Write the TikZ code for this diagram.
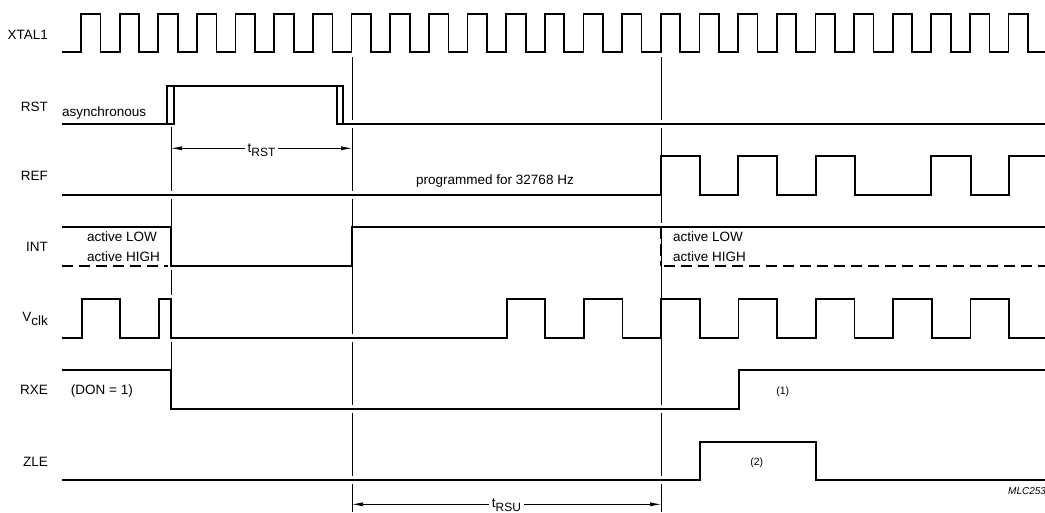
\documentclass[tikz,border=0pt]{standalone}
\usepackage{fontspec}
\setmainfont{Liberation Sans}
\usetikzlibrary{arrows.meta}
\begin{document}
\begin{tikzpicture}[x=1pt,y=-1pt,
  sig/.style={line width=1.7pt, line join=miter},
  dsig/.style={sig, dash pattern=on 11pt off 6pt},
  vdsig/.style={sig, dash pattern=on 12pt off 5pt},
  guide/.style={line width=0.7pt},
  gapmark/.style={white, line width=3pt},
  lbl/.style={font=\fontsize{13.5}{14}\selectfont, inner sep=0pt},
  note/.style={font=\fontsize{13.5}{14}\selectfont, inner sep=0pt},
  small/.style={font=\fontsize{10.5}{12}\selectfont, inner sep=0pt},
  dimtext/.style={font=\fontsize{13.5}{14}\selectfont, fill=white, inner xsep=3pt, inner ysep=1pt},
  dimline/.style={line width=0.7pt, {Latex[length=11pt,width=4pt]}-{Latex[length=11pt,width=4pt]}},
]
\useasboundingbox (0,0) rectangle (1045,512);

% ---------- guide lines ----------
\coordinate (g1t) at (171,127);  \coordinate (g1b) at (171,370);
\coordinate (g2t) at (352,57);   \coordinate (g2b) at (352,512);
\coordinate (g3t) at (661,57);   \coordinate (g3b) at (661,512);
\draw[guide] (g1t) -- (g1b);
\draw[guide] (g2t) -- (g2b);
\draw[guide] (g3t) -- (g3b);
\foreach \y in {195,266,299,338} \draw[gapmark] (171,{\y-4}) -- (171,{\y+4});
\foreach \y in {124,195,338,409,480} \draw[gapmark] (352,{\y-4}) -- (352,{\y+4});
\foreach \y in {124,227,409,480} \draw[gapmark] (661,{\y-4}) -- (661,{\y+4});

% ---------- labels ----------
\node[lbl, anchor=base east] (lx) at (48,39.3) {XTAL1};
\node[lbl, anchor=base east] (lr) at (48,111) {RST};
\node[lbl, anchor=base east] (lref) at (48,180) {REF};
\node[lbl, anchor=base east] (li) at (48,251) {INT};
\node[lbl, anchor=base east] (lv) at (48,321) {V\raisebox{-4pt}{clk}};
\node[lbl, anchor=base east] (lrx) at (48,394.3) {RXE};
\node[lbl, anchor=base east] (lz) at (48,466.5) {ZLE};

% ---------- XTAL1 ----------
\draw[sig] (62,52) \foreach \k in {0,...,24} {
   -- ({81+38.65*\k},52) -- ({81+38.65*\k},14) -- ({100.5+38.65*\k},14) -- ({100.5+38.65*\k},52)
 } -- (1045,52);

% ---------- RST ----------
\draw[sig] (62,124) -- (174,124) -- (174,86) -- (343,86) -- (343,124);
\draw[sig] (167,124) -- (167,86) -- (337,86) -- (337,124) -- (1045,124);
\node[note, anchor=base west] (async) at (62,116.5) {asynchronous};

% ---------- REF ----------
\draw[sig] (62,195) -- (661,195) -- (661,156) -- (700,156) -- (700,195)
  -- (738.3,195) -- (738.3,156) -- (777.3,156) -- (777.3,195)
  -- (816,195) -- (816,156) -- (855,156) -- (855,195)
  -- (931,195) -- (931,156) -- (970.7,156) -- (970.7,195)
  -- (1009.3,195) -- (1009.3,156) -- (1045,156);
\node[note, anchor=base] (prog) at (495,184.5) {programmed for 32768 Hz};

% ---------- INT ----------
\draw[sig] (62,227) -- (171,227) -- (171,266) -- (352,266) -- (352,227) -- (1045,227);
\draw[dsig] (62,266) -- (168,266);
\draw[vdsig] (661,227) -- (661,266);
\draw[dsig] (664,266) -- (1045,266);
\node[note, anchor=base west] (al1) at (87,241.7) {active LOW};
\node[note, anchor=base west] (ah1) at (87,261.7) {active HIGH};
\node[note, anchor=base west] (al2) at (673,241.7) {active LOW};
\node[note, anchor=base west] (ah2) at (673,261.7) {active HIGH};

% ---------- Vclk ----------
\draw[sig] (62,338) -- (81.7,338) -- (81.7,299) -- (120.3,299) -- (120.3,338)
  -- (159,338) -- (159,299) -- (171,299) -- (171,338)
  \foreach \k in {0,...,6} {
   -- ({506.7+77.3*\k},338) -- ({506.7+77.3*\k},299) -- ({545.3+77.3*\k},299) -- ({545.3+77.3*\k},338)
  } -- (1045,338);

% ---------- RXE ----------
\draw[sig] (62,370) -- (171,370) -- (171,409) -- (739,409) -- (739,370) -- (1045,370);
\node[note, anchor=base west] (don) at (70.7,394.3) {(DON = 1)};
\node[small] (n1) at (782.7,391.7) {(1)};

% ---------- ZLE ----------
\draw[sig] (62,480) -- (700,480) -- (700,442) -- (815.7,442) -- (815.7,480) -- (1045,480);
\node[small] (n2) at (756.7,462.7) {(2)};

% ---------- dimensions ----------
\coordinate (r1) at (171,148.3); \coordinate (r2) at (352,148.3);
\draw[dimline] (r1) -- (r2);
\node[dimtext, anchor=base] (trst) at (261.5,152.7) {t\raisebox{-4pt}{\fontsize{12}{12}\selectfont RST}};
\coordinate (s1) at (352,504.3); \coordinate (s2) at (661,504.3);
\draw[dimline] (s1) -- (s2);
\node[dimtext, anchor=base] (trsu) at (506.5,507.5) {t\raisebox{-4pt}{\fontsize{12}{12}\selectfont RSU}};

\node[font=\fontsize{10}{11}\selectfont\itshape, inner sep=0pt, anchor=base west] (mlc) at (1008,494.5) {MLC253};
\end{tikzpicture}
\end{document}
